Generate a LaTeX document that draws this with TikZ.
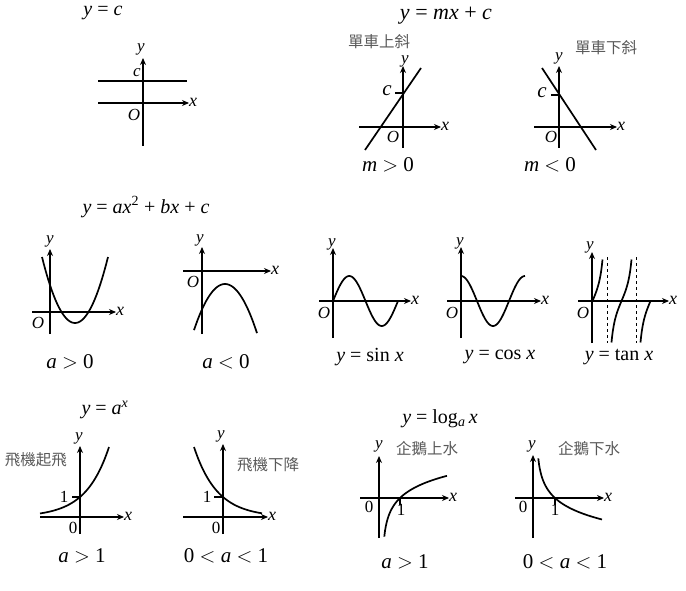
\documentclass[tikz,border=0pt]{standalone}
\usepackage{fontspec}
\setmainfont{Liberation Serif}
\newfontfamily\cjk{Noto Sans CJK TC}
\usetikzlibrary{arrows.meta}
\newcommand\myfs[1]{\fontsize{#1}{#1}\selectfont}
\newcommand\vi[1]{\textit{#1}}
\begin{document}
\begin{tikzpicture}[x=1pt,y=-1pt,
  ax/.style={line width=1.2pt,-{Stealth[length=7pt,width=6pt]}},
  crv/.style={line width=1.7pt},
  tk/.style={line width=1.2pt},
  lb/.style={inner sep=0pt,font=\myfs{17}},
  xl/.style={inner sep=0pt,font=\myfs{18},anchor=west},
  ttl/.style={inner sep=0pt,font=\myfs{20}},
  cond/.style={inner sep=0pt,font=\myfs{21}},
  tcond/.style={inner sep=0pt,font=\myfs{20}},
  zh/.style={inner sep=0pt,font=\cjk\myfs{15.5},text=black!65}]
\useasboundingbox (0,0) rectangle (686,591);

% ---------- y = c ----------
\node[ttl] (t1) at (103,13) {\vi{y} = \vi{c}};
\draw[ax] (143,146) -- (143,58);
\draw[ax] (98,103) -- (189,103);
\draw[crv] (98,81) -- (187,81);
\node[lb] (y1) at (141,49) {\vi{y}};
\node[xl] (x1) at (189,102) {\vi{x}};
\node[lb] (c1) at (137,73) {\vi{c}};
\node[lb] (o1) at (134,115) {\vi{O}};

% ---------- y = mx + c ----------
\node[ttl,font=\myfs{22}] (t2) at (446,16) {\vi{y} = \vi{mx} + \vi{c}};
\node[zh] (z1) at (379,42) {單車上斜};
\draw[ax] (403,148) -- (403,66);
\draw[ax] (359,127) -- (441,127);
\draw[crv] (365,150) -- (421,68);
\draw[tk] (395,93) -- (403,93);
\node[lb] (y2) at (405,61) {\vi{y}};
\node[xl] (x2) at (441,126) {\vi{x}};
\node[lb,font=\myfs{21}] (c2) at (387,91) {\vi{c}};
\node[lb] (o2) at (393,137) {\vi{O}};
\node[cond] (m1) at (388,165) {\vi{m} $>$ 0};

\node[zh] (z2) at (606,48) {單車下斜};
\draw[ax] (559,148) -- (559,66);
\draw[ax] (534,127) -- (617,127);
\draw[crv] (542,68) -- (596,150);
\draw[tk] (551,95) -- (559,95);
\node[lb] (y3) at (559,58) {\vi{y}};
\node[xl] (x3) at (617,126) {\vi{x}};
\node[lb,font=\myfs{21}] (c3) at (542,93) {\vi{c}};
\node[lb] (o3) at (551,137) {\vi{O}};
\node[cond] (m2) at (550,165) {\vi{m} $<$ 0};

% ---------- parabolas ----------
\node[ttl] (t3) at (146,207) {\vi{y} = \vi{ax}\textsuperscript{2} + \vi{bx} + \vi{c}};
\draw[ax] (50,334) -- (50,249);
\draw[ax] (32,312) -- (116,312);
\draw[crv,domain=-33:33,samples=60] plot ({75+\x},{323-0.0606*\x*\x});
\node[lb] (y4) at (50,241) {\vi{y}};
\node[xl] (x4) at (116,311) {\vi{x}};
\node[lb] (o4) at (38,323) {\vi{O}};
\node[cond] (a1) at (70,362) {\vi{a} $>$ 0};

\draw[ax] (202,334) -- (202,247);
\draw[ax] (183,271) -- (271,271);
\draw[crv,domain=-31:32,samples=60] plot ({225+\x},{284+0.048*\x*\x});
\node[lb] (y5) at (200,240) {\vi{y}};
\node[xl] (x5) at (271,270) {\vi{x}};
\node[lb] (o5) at (193,282) {\vi{O}};
\node[cond] (a2) at (226,362) {\vi{a} $<$ 0};

% ---------- trig ----------
\draw[ax] (333,338) -- (333,248);
\draw[ax] (319,301) -- (411,301);
\draw[crv,domain=0:65,samples=80] plot ({333+\x},{301-25*sin(\x*5.5385)});
\node[lb] (y6) at (332,244) {\vi{y}};
\node[xl] (x6) at (411,300) {\vi{x}};
\node[lb] (o6) at (324,313) {\vi{O}};
\node[tcond] (s1) at (370,357) {\vi{y} = sin \vi{x}};

\draw[ax] (461,338) -- (461,247);
\draw[ax] (447,301) -- (541,301);
\draw[crv,domain=0:64,samples=80] plot ({461+\x},{301-25*cos(\x*5.625)});
\node[lb] (y7) at (460,243) {\vi{y}};
\node[xl] (x7) at (541,300) {\vi{x}};
\node[lb] (o7) at (452,313) {\vi{O}};
\node[tcond] (s2) at (500,357) {\vi{y} = cos \vi{x}};

\draw[ax] (592,343) -- (592,252);
\draw[ax] (578,301) -- (669,301);
\draw[dashed,line width=0.6pt] (607,257) -- (607,343);
\draw[dashed,line width=0.6pt] (636,257) -- (636,343);
\draw[crv,domain=0:10,samples=40] plot ({592.5+\x},{301-22*tan(\x*6.2069)});
\draw[crv,domain=-10:10,samples=60] plot ({621.5+\x},{301-22*tan(\x*6.2069)});
\draw[crv,domain=-10:0,samples=40] plot ({650.5+\x},{301-22*tan(\x*6.2069)});
\node[lb] (y8) at (590,247) {\vi{y}};
\node[xl] (x8) at (669,300) {\vi{x}};
\node[lb] (o8) at (583,313) {\vi{O}};
\node[tcond] (s3) at (619,357) {\vi{y} = tan \vi{x}};

% ---------- exponential ----------
\node[ttl] (t4) at (105,410) {\vi{y} = \vi{a}\textsuperscript{\vi{x}}};
\node[zh] (z3) at (36,460) {飛機起飛};
\draw[ax] (80,534) -- (80,446);
\draw[ax] (40,517) -- (124,517);
\draw[crv,domain=-40:29,samples=60] plot ({80+\x},{517-20*exp(0.0432*\x)});
\draw[tk] (72,497) -- (80,497);
\node[lb] (y9) at (79,438) {\vi{y}};
\node[xl] (x9) at (124,516) {\vi{x}};
\node[lb] (one1) at (64,497) {1};
\node[lb] (zero1) at (73,528) {0};
\node[cond] (e1) at (82,556) {\vi{a} $>$ 1};

\node[zh] (z4) at (268,465) {飛機下降};
\draw[ax] (223,534) -- (223,444);
\draw[ax] (183,517) -- (268,517);
\draw[crv,domain=-29:39,samples=60] plot ({223+\x},{517-20*exp(-0.0432*\x)});
\draw[tk] (214,497) -- (223,497);
\node[lb] (y10) at (221,436) {\vi{y}};
\node[xl] (x10) at (268,516) {\vi{x}};
\node[lb] (one2) at (207,497) {1};
\node[lb] (zero2) at (216,528) {0};
\node[cond] (e2) at (226,556) {0 $<$ \vi{a} $<$ 1};

% ---------- logarithm ----------
\node[ttl] (t5) at (440,419) {\vi{y} = log\textsubscript{\vi{a}}\,\vi{x}};
\node[zh] (z5) at (427,449) {企鵝上水};
\draw[ax] (379,538) -- (379,456);
\draw[ax] (360,498) -- (449,498);
\draw[crv,domain=1.8:64.5,samples=80] plot ({382.5+\x},{498-17*ln(\x/17.5)});
\draw[tk] (400,498) -- (400,505);
\node[lb] (y11) at (379,446) {\vi{y}};
\node[xl] (x11) at (449,497) {\vi{x}};
\node[lb] (one3) at (401,510) {1};
\node[lb] (zero3) at (369,507) {0};
\node[cond] (l1) at (405,562) {\vi{a} $>$ 1};

\node[zh] (z6) at (589,449) {企鵝下水};
\draw[ax] (533,538) -- (533,455);
\draw[ax] (515,498) -- (604,498);
\draw[crv,domain=1.8:65.5,samples=80] plot ({536.5+\x},{498+17*ln(\x/18.5)});
\draw[tk] (555,498) -- (555,505);
\node[lb] (y12) at (532,446) {\vi{y}};
\node[xl] (x12) at (604,497) {\vi{x}};
\node[lb] (one4) at (555,510) {1};
\node[lb] (zero4) at (523,507) {0};
\node[cond] (l2) at (565,562) {0 $<$ \vi{a} $<$ 1};
\end{tikzpicture}
\end{document}
